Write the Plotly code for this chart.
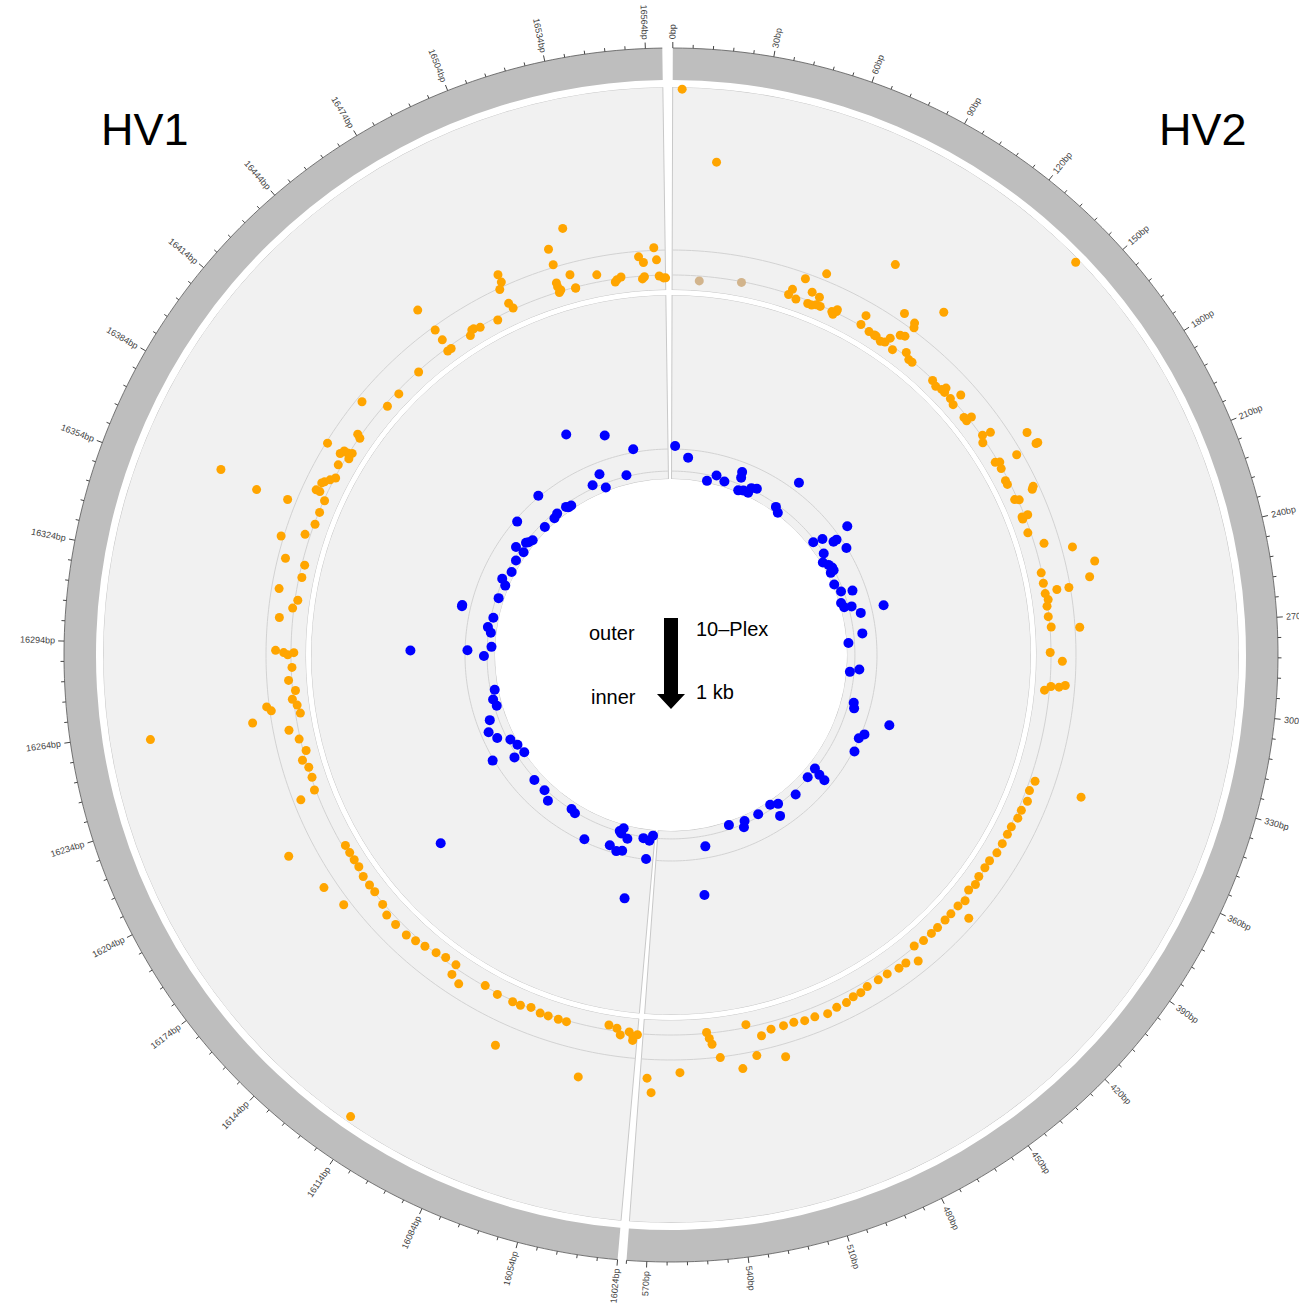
import math
import plotly.graph_objects as go

W, H = 1299, 1303
CX, CY = 671, 655

# sector layout, degrees clockwise from 12 o'clock
DEG_PER_BP = 0.3195
HV2_START, HV2_END = 0, 576
HV1_START, HV1_END = 16024, 16569
HV2_DEG0 = 0.17
HV1_DEG0 = 185.05

def bp_to_theta(bp):
    if bp >= HV1_START:
        return HV1_DEG0 + (bp - HV1_START) * DEG_PER_BP
    return HV2_DEG0 + (bp - HV2_START) * DEG_PER_BP

# 10-Plex (outer track): position (bp) and track value
plex_pos = [16527,16519,16519,16525,16537,16564,16557,16559,16565,16546,16548,16545,16558,16559,16566,16568,16569,16518,16518,16518,16519,16526,16526,16495,16495,16493,16494,16495,16486,16458,16459,16459,16458,16460,16473,16474,16471,16477,16441,16427,16419,16413,16389,16400,16399,16388,16390,16390,16391,16388,16383,16377,16375,16373,16372,16368,16368,16365,16359,16353,16358,16359,16343,16347,16334,16333,16327,16320,16316,16312,16307,16292,16291,16290,16291,16360,
16284,16278,16273,16269,16266,16262,16267,16265,16261,16261,16255,16250,16244,16240,16236,16231,16225,16223,16203,16195,16191,16187,16183,16178,16173,16169,16184,16173,16162,16157,16151,16144,16139,16134,16128,16123,16117,16116,16111,16100,16093,16085,16081,16076,16071,16067,16062,16058,16047,16084,16038,16034,16032,16028,16026,16024,16026,16117,
93,143,69,61,57,56,60,66,70,66,68,70,72,78,80,80,79,107,120,93,93,113,114,98,101,102,105,107,108,111,113,112,118,121,123,136,139,142,143,144,148,151,150,159,161,161,171,174,172,181,187,187,187,185,186,189,195,197,203,204,205,206,214,214,215,222,229,234,242,248,242,247,251,251,252,255,258,263,268,269,280,3,16,
298,296,296,295,284,341,341,346,351,356,360,365,369,374,379,384,388,393,397,401,406,410,411,415,419,424,428,433,438,441,446,450,456,461,467,471,475,479,484,489,495,500,505,510,516,521,527,525,513,532,541,544,546,545,559,573,571]
plex_val = [.37,.29,.21,.14,.11,.21,.17,.14,.15,.07,.08,.06,.06,.07,.07,.06,.06,.12,.10,.07,.08,.07,.07,.26,.22,.19,.11,.08,.06,.31,.18,.12,.06,.06,.08,.08,.06,.07,.07,.06,.06,.17,.19,.09,.07,.11,.10,.08,.06,.06,.09,.07,.09,.11,.12,.13,.11,.07,.07,.07,.40,.24,.21,.10,.16,.06,.06,.16,.06,.08,.14,.15,.11,.09,.06,.60,
.07,.09,.06,.08,.06,.05,.21,.19,.29,.80,.12,.08,.06,.09,.07,.07,.08,.16,.33,.06,.06,.06,.06,.07,.07,.07,.26,.23,.08,.10,.10,.10,.09,.08,.07,.06,.06,.11,.13,.07,.08,.08,.08,.07,.08,.08,.08,.08,.33,.31,.05,.06,.09,.07,.09,.08,.11,.97,
.42,.98,.23,.17,.10,.07,.06,.12,.11,.06,.06,.07,.07,.07,.08,.09,.06,.24,.36,.13,.08,.23,.21,.07,.07,.07,.06,.07,.10,.14,.15,.06,.09,.07,.07,.07,.06,.07,.09,.07,.07,.06,.12,.06,.09,.06,.08,.06,.12,.27,.28,.29,.17,.06,.08,.07,.06,.06,.17,.16,.06,.08,.06,.09,.06,.06,.12,.25,.34,.30,.07,.07,.13,.19,.07,.08,.07,.07,.08,.22,.07,.99,.64,
.05,.08,.12,.15,.13,.34,.10,.09,.10,.09,.09,.08,.08,.08,.08,.07,.07,.07,.08,.07,.09,.08,.16,.08,.08,.08,.08,.08,.07,.14,.11,.11,.10,.10,.10,.11,.11,.12,.12,.13,.12,.12,.11,.11,.11,.13,.06,.22,.26,.27,.20,.13,.07,.10,.26,.29,.36]
plex_alt_pos = [13, 33]
plex_alt_val = [.05, .07]

# 1 kb (inner track): position (bp) and track value
kb_pos = [16492,16519,3,16539,16504,16528,16494,16505,16447,16463,16466,16461,16450,16445,16418,16432,16410,16414,16408,16399,16399,16388,16376,16366,16361,16347,16332,16331,16327,16317,16312,16298,16293,16294,16289,
16255,16246,16239,16228,16218,16210,16203,16195,16186,16185,16194,16157,16143,16134,16111,16106,16087,16064,16057,16052,16059,16056,16057,16050,16035,16029,16026,16030,16042,16167,
15,44,36,53,66,67,69,74,79,80,85,114,110,115,168,164,161,172,172,183,176,183,188,192,196,195,208,217,220,228,233,234,240,242,261,269,295,140,
531,538,504,488,491,473,458,451,456,432,412,401,403,404,368,356,351,337,327,332,298]
kb_val = [.37,.29,.18,.18,.10,.05,.06,.02,.17,.02,.02,.03,.03,.02,.15,.02,.03,.02,.04,.07,.02,.03,.02,.05,.02,.03,.21,.21,.03,.05,.03,.02,.46,.15,.06,
.02,.04,.03,.09,.12,.09,.03,.01,.06,.00,.17,.05,.05,.08,.04,.05,.15,.13,.15,.14,.04,.02,.05,.07,.05,.06,.03,.16,.39,.66,
.12,.05,.01,.03,.11,.08,.01,.02,.02,.05,.06,.21,.03,.01,.23,.08,.03,.12,.14,.16,.04,.01,.03,.04,.02,.04,.01,.03,.09,.01,.02,.06,.23,.10,.09,.01,.07,1.05,
.10,.36,.02,.03,.06,.03,.02,.04,.10,.06,.04,.04,.08,.12,.17,.16,.18,.29,.07,.08,.02]

# ring radii (px) for ideogram and the two data tracks
R_IDEO_IN, R_IDEO_OUT = 575, 607
R_OUT_IN, R_OUT_OUT = 365, 568
R_IN_IN, R_IN_OUT = 176, 360

def domain_for(radius):
    return dict(x=[(CX - radius) / W, (CX + radius) / W],
                y=[(H - CY - radius) / H, (H - CY + radius) / H])

def polar_layout(radius, hole, rrange):
    return dict(domain=domain_for(radius), hole=hole, bgcolor="rgba(0,0,0,0)",
                radialaxis=dict(visible=False, range=rrange),
                angularaxis=dict(visible=False, rotation=90, direction="clockwise",
                                 thetaunit="degrees"))

fig = go.Figure()

sectors = [(HV2_START, HV2_END), (HV1_START, HV1_END)]
sec_mid = [(bp_to_theta(a) + bp_to_theta(b)) / 2 for a, b in sectors]
sec_w = [bp_to_theta(b) - bp_to_theta(a) for a, b in sectors]

# ideogram ring
R_AX = 626
fig.add_trace(go.Barpolar(theta=sec_mid, width=sec_w, r=[R_IDEO_OUT - R_IDEO_IN] * 2,
                          base=[R_IDEO_IN] * 2, marker=dict(color="#BEBEBE", line=dict(width=0)),
                          subplot="polar", hoverinfo="skip", showlegend=False))
# genomic axis: baseline, minor ticks every 6 bp, major ticks every 30 bp
for a, b in sectors:
    th = [bp_to_theta(a) + i * (bp_to_theta(b) - bp_to_theta(a)) / 200 for i in range(201)]
    fig.add_trace(go.Scatterpolar(theta=th, r=[R_IDEO_OUT] * len(th), mode="lines",
                                  line=dict(color="#555555", width=0.8), subplot="polar",
                                  hoverinfo="skip", showlegend=False))
tick_th, tick_r = [], []
labels = []
for a, b in sectors:
    for p in range(a, b + 1, 6):
        major = (p - a) % 30 == 0
        t = bp_to_theta(p)
        tick_th += [t, t, None]
        tick_r += [R_IDEO_OUT, R_IDEO_OUT + (6 if major else 3.5), None]
        if major:
            labels.append((t, f"{p}bp"))
fig.add_trace(go.Scatterpolar(theta=tick_th, r=tick_r, mode="lines",
                              line=dict(color="#444444", width=1), subplot="polar",
                              hoverinfo="skip", showlegend=False))

# track cell backgrounds
for sub in ("polar2", "polar3"):
    fig.add_trace(go.Barpolar(theta=sec_mid, width=sec_w, r=[1, 1], base=[0, 0],
                              marker=dict(color="#F1F1F1", line=dict(color="#C8C8C8", width=1)),
                              subplot=sub, hoverinfo="skip", showlegend=False))

def ref_circle(sub, v):
    for a, b in sectors:
        th = [bp_to_theta(a) + i * (bp_to_theta(b) - bp_to_theta(a)) / 200 for i in range(201)]
        fig.add_trace(go.Scatterpolar(theta=th, r=[v] * len(th), mode="lines",
                                      line=dict(color="#D2D2D2", width=1), subplot=sub,
                                      hoverinfo="skip", showlegend=False))

ref_circle("polar2", 0.074)
ref_circle("polar2", 0.197)
ref_circle("polar3", 0.043)
ref_circle("polar3", 0.163)

fig.add_trace(go.Scatterpolar(theta=[bp_to_theta(b) for b in plex_pos], r=plex_val, mode="markers",
                              marker=dict(color="#FFA500", size=9), subplot="polar2",
                              name="10-Plex", showlegend=False))
fig.add_trace(go.Scatterpolar(theta=[bp_to_theta(b) for b in plex_alt_pos], r=plex_alt_val, mode="markers",
                              marker=dict(color="#D2B48C", size=9), subplot="polar2", showlegend=False))
fig.add_trace(go.Scatterpolar(theta=[bp_to_theta(b) for b in kb_pos], r=kb_val, mode="markers",
                              marker=dict(color="#0000FF", size=10), subplot="polar3",
                              cliponaxis=False, name="1 kb", showlegend=False))

annotations = []
FS = 9
for t, txt in labels:
    w = len(txt) * 0.56 * FS
    rc = R_IDEO_OUT + 9 + w / 2
    rad = math.radians(t)
    x = CX + rc * math.sin(rad)
    y = CY - rc * math.cos(rad)
    ang = t - 90 if t < 180 else t - 270
    annotations.append(dict(x=x / W, y=1 - y / H, xref="paper", yref="paper", text=txt,
                            showarrow=False, textangle=ang, xanchor="center", yanchor="middle",
                            font=dict(size=FS, color="#444444", family="Liberation Sans, Arial")))

def label(x, y, txt, size):
    annotations.append(dict(x=x / W, y=1 - y / H, xref="paper", yref="paper", text=txt,
                            showarrow=False, xanchor="center", yanchor="middle",
                            font=dict(size=size, color="#000000", family="Liberation Sans, Arial")))

label(145, 129, "HV1", 45)
label(1203, 129, "HV2", 45)
label(612, 633, "outer", 20)
label(613, 697, "inner", 20)
label(732, 629, "10\u2013Plex", 20)
label(715, 692, "1 kb", 20)

# outer -> inner arrow
arrow = [(664, 618), (678, 618), (678, 694), (685, 694), (671, 709), (657, 694), (664, 694)]
path = "M " + " L ".join(f"{x / W:.5f},{1 - y / H:.5f}" for x, y in arrow) + " Z"

fig.update_layout(
    width=W, height=H, margin=dict(l=0, r=0, t=0, b=0),
    paper_bgcolor="white", plot_bgcolor="white",
    polar=polar_layout(R_AX, 0, [0, R_AX]),
    polar2=polar_layout(R_OUT_OUT, R_OUT_IN / R_OUT_OUT, [0, 1]),
    polar3=polar_layout(R_IN_OUT, R_IN_IN / R_IN_OUT, [0, 1]),
    annotations=annotations,
    shapes=[dict(type="path", path=path, xref="paper", yref="paper",
                 fillcolor="black", line=dict(width=0))],
    showlegend=False,
)

fig.write_html("out.html")
